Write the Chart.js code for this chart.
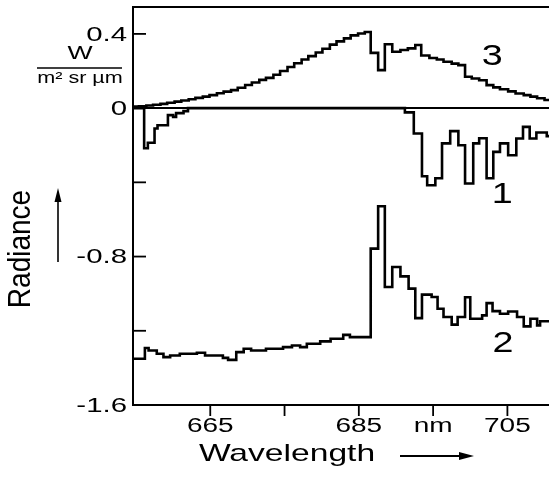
<!DOCTYPE html>
<html>
<head>
<meta charset="utf-8">
<script src="https://cdn.jsdelivr.net/npm/chart.js@4/dist/chart.umd.min.js"></script>
<style>
html, body { margin: 0; padding: 0; background: #fff; }
</style>
</head>
<body>
<canvas id="myChart" width="549" height="491"></canvas>
<script>
// wavelength = start of each bin (nm), radiance in W / (m2 sr um)
const wl1 = [654.6, 656.1, 656.6, 657.5, 657.9, 659.3, 660.0, 660.4, 661.4, 662.0,
    691.2, 692.4, 693.5, 694.2, 695.3, 696.2, 697.3, 698.4, 699.3, 700.4,
    701.2, 702.2, 703.1, 704.0, 705.1, 706.2, 707.1, 708.0, 708.9, 710.3, 711.0];
const rad1 = [0, -0.216, -0.187, -0.11, -0.092, -0.038, -0.047, -0.027, -0.016, 0,
    -0.023, -0.137, -0.367, -0.416, -0.378, -0.19, -0.124, -0.2, -0.406, -0.19,
    -0.162, -0.378, -0.236, -0.19, -0.254, -0.164, -0.101, -0.164, -0.131, -0.151, -0.151];

const wl2 = [654.6, 656.2, 656.7, 657.8, 658.7, 659.6, 660.9, 663.2, 664.3, 666.7,
    667.4, 668.5, 669.5, 670.5, 672.5, 674.8, 676.0, 677.1, 678.0, 679.8,
    681.2, 682.9, 683.8, 686.6, 687.6, 688.5, 689.5, 690.6, 691.7, 692.6,
    693.5, 694.8, 695.6, 696.4, 697.5, 698.3, 699.3, 700.0, 701.6, 702.2,
    703.0, 704.0, 705.1, 706.3, 707.2, 708.1, 709.0, 709.4, 711.0];
const rad2 = [-1.351, -1.293, -1.306, -1.324, -1.342, -1.333, -1.324, -1.318, -1.333, -1.346,
    -1.357, -1.315, -1.297, -1.306, -1.297, -1.288, -1.279, -1.288, -1.27, -1.257,
    -1.243, -1.222, -1.234, -0.757, -0.529, -0.964, -0.856, -0.907, -0.973, -1.132,
    -1.005, -1.018, -1.081, -1.126, -1.167, -1.126, -1.019, -1.135, -1.117, -1.051,
    -1.094, -1.108, -1.096, -1.126, -1.176, -1.135, -1.171, -1.149, -1.149];

const wl3 = [654.5, 655.4, 656.4, 657.3, 658.3, 659.2, 660.2, 661.1, 662.1, 663.0,
    664.0, 664.9, 665.9, 666.8, 667.8, 668.7, 669.7, 670.6, 671.6, 672.5,
    673.5, 674.4, 675.4, 676.3, 677.3, 678.2, 679.2, 680.1, 681.1, 682.0,
    683.0, 683.9, 684.9, 685.8, 686.6, 687.6, 688.5, 689.5, 690.6, 691.6,
    692.6, 693.4, 694.5, 695.5, 696.4, 697.5, 698.4, 699.3, 700.2, 701.2,
    702.2, 703.1, 704.0, 705.1, 706.1, 707.2, 708.1, 709.0, 710.0, 711.0];
const rad3 = [0.008, 0.010, 0.014, 0.018, 0.023, 0.029, 0.035, 0.041, 0.048, 0.055,
    0.062, 0.070, 0.080, 0.089, 0.097, 0.110, 0.125, 0.138, 0.152, 0.163,
    0.180, 0.200, 0.222, 0.242, 0.262, 0.280, 0.300, 0.320, 0.342, 0.360,
    0.376, 0.392, 0.402, 0.410, 0.298, 0.205, 0.344, 0.304, 0.313, 0.322,
    0.340, 0.284, 0.270, 0.262, 0.250, 0.240, 0.232, 0.169, 0.160, 0.150,
    0.124, 0.112, 0.102, 0.090, 0.079, 0.070, 0.062, 0.053, 0.044, 0.040];

const xTicks = [665, 675, 685, 695, 705];
const xLabels = ['665', '', '685', 'nm', '705'];
const yTicks = [-1.6, -1.2, -0.8, -0.4, 0, 0.4];
const yLabels = ['-1.6', '', '-0.8', '', '0', '0.4'];
const curveNames = ['1', '2', '3'];

const FONT = '"Liberation Sans", Arial, Helvetica, sans-serif';
const SX = 1.4; // the original lettering is wide

function drawText(ctx, str, x, y, size, align, sx) {
    ctx.save();
    ctx.translate(x, y);
    ctx.scale(sx, 1);
    ctx.font = size + 'px ' + FONT;
    ctx.textAlign = align;
    ctx.textBaseline = 'middle';
    ctx.fillStyle = '#000';
    ctx.fillText(str, 0, 0);
    ctx.restore();
}

function line(ctx, x1, y1, x2, y2, w) {
    ctx.beginPath();
    ctx.lineWidth = w;
    ctx.moveTo(x1, y1);
    ctx.lineTo(x2, y2);
    ctx.stroke();
}

const decor = {
    id: 'decor',
    afterDraw(chart) {
        const ctx = chart.ctx;
        const area = chart.chartArea;
        const xs = chart.scales.x;
        const ys = chart.scales.y;
        ctx.save();
        ctx.strokeStyle = '#000';
        ctx.fillStyle = '#000';

        // top frame line
        line(ctx, area.left, area.top, area.right, area.top, 2);

        // y ticks point inwards
        yTicks.forEach((v, i) => {
            const py = ys.getPixelForValue(v);
            line(ctx, area.left, py, area.left + 13, py, 1.8);
            if (yLabels[i]) drawText(ctx, yLabels[i], 127, py + 1, 21, 'right', SX);
        });

        // x ticks point outwards
        xTicks.forEach((v, i) => {
            const px = xs.getPixelForValue(v);
            line(ctx, px, area.bottom, px, area.bottom + 11, 1.8);
            if (xLabels[i]) drawText(ctx, xLabels[i], px, 426, 20, 'center', SX);
        });

        // axis titles
        drawText(ctx, 'Wavelength', 287, 454, 24, 'center', 1.4);
        line(ctx, 400, 456, 462, 456, 1.8);
        ctx.beginPath();
        ctx.moveTo(474, 456);
        ctx.lineTo(459, 452);
        ctx.lineTo(459, 460);
        ctx.closePath();
        ctx.fill();

        ctx.save();
        ctx.translate(21, 249);
        ctx.rotate(-Math.PI / 2);
        ctx.scale(1, 1.15);
        ctx.font = '28px ' + FONT;
        ctx.textAlign = 'center';
        ctx.textBaseline = 'middle';
        ctx.fillText('Radiance', 0, 0);
        ctx.restore();

        line(ctx, 58, 262, 58, 198, 1.6);
        ctx.beginPath();
        ctx.moveTo(58, 188);
        ctx.lineTo(54.5, 202);
        ctx.lineTo(61.5, 202);
        ctx.closePath();
        ctx.fill();

        // unit
        drawText(ctx, 'W', 80, 54, 19, 'center', 1.4);
        line(ctx, 37, 68, 122, 68, 1.5);
        drawText(ctx, 'm\u00b2 sr \u00b5m', 80, 79, 16, 'center', 1.35);

        // curve numbers
        const pos = [[704.3, -0.47], [704.4, -1.27], [702.95, 0.275]];
        curveNames.forEach((n, i) => {
            drawText(ctx, n, xs.getPixelForValue(pos[i][0]), ys.getPixelForValue(pos[i][1]), 29, 'center', 1.3);
        });
        ctx.restore();
    }
};

const toPoints = (wl, rad) => wl.map((x, i) => ({ x: x, y: rad[i] }));
const series = [[wl1, rad1], [wl2, rad2], [wl3, rad3]];

new Chart(document.getElementById('myChart').getContext('2d'), {
    type: 'line',
    data: {
        datasets: series.map((s, i) => ({
            label: curveNames[i],
            data: toPoints(s[0], s[1]),
            borderColor: '#000',
            borderWidth: 2.6,
            pointRadius: 0,
            stepped: true,
            fill: false
        }))
    },
    options: {
        responsive: false,
        animation: false,
        layout: { padding: { top: 7, right: 0, left: 0, bottom: 0 } },
        plugins: { legend: { display: false }, tooltip: { enabled: false } },
        scales: {
            x: {
                type: 'linear',
                min: 654.6,
                max: 710.6,
                afterBuildTicks: s => { s.ticks = xTicks.map(v => ({ value: v })); },
                afterFit: s => { s.height = 86; },
                ticks: { display: false },
                grid: { display: false },
                border: { display: true, color: '#000', width: 2 }
            },
            y: {
                type: 'linear',
                min: -1.6,
                max: 0.545,
                afterBuildTicks: s => { s.ticks = yTicks.map(v => ({ value: v })); },
                afterFit: s => { s.width = 133; },
                ticks: { display: false },
                grid: {
                    drawTicks: false,
                    lineWidth: 2,
                    color: c => (c.tick && c.tick.value === 0) ? '#000' : 'rgba(0,0,0,0)'
                },
                border: { display: true, color: '#000', width: 2 }
            }
        }
    },
    plugins: [decor]
});
</script>
</body>
</html>
